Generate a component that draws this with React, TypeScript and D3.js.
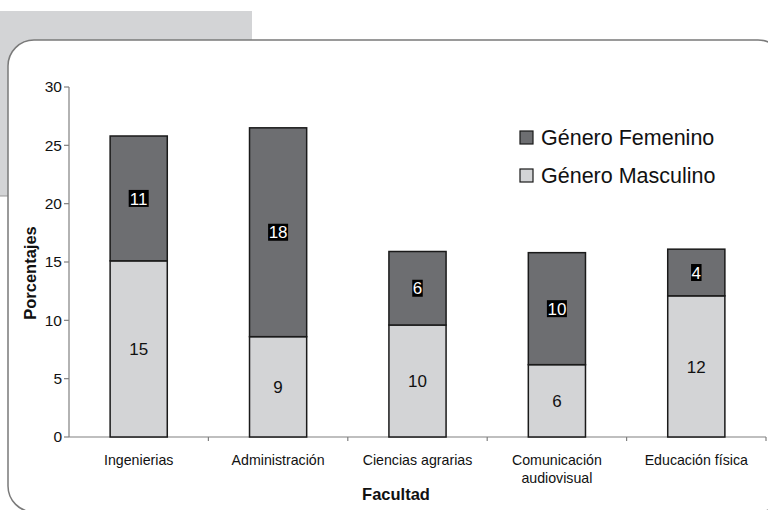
import React from "react";
import * as d3 from "d3";

const categories = ["Ingenierias", "Administración", "Ciencias agrarias", "Comunicación|audiovisual", "Educación física"];
const masculino = [15.1, 8.6, 9.6, 6.2, 12.1];
const femenino = [10.7, 17.9, 6.3, 9.6, 4.0];
const yTicks = [0, 5, 10, 15, 20, 25, 30];
const seriesNames = ["Género Femenino", "Género Masculino"];

const W = 768, H = 510;
const FONT = "'Liberation Sans', Arial, sans-serif";
const FEM = "#6d6e71";
const MAS = "#d3d4d6";

export default function App() {
  const x0 = 69, x1 = 766, yBase = 437, yTop = 87;
  const x = d3.scaleBand<string>().domain(categories).range([x0, x1]).paddingInner(0.59).paddingOuter(0.295);
  const band = d3.scaleBand<string>().domain(categories).range([x0, x1]);
  const y = d3.scaleLinear().domain([0, 30]).range([yBase, yTop]);
  const bw = x.bandwidth();

  return (
    <div style={{ position: "fixed", left: 0, top: 0 }}>
      <svg width={W} height={H} style={{ display: "block", fontFamily: FONT }}>
        <rect x={0} y={0} width={W} height={H} fill="#fff" />
        <rect x={0} y={11} width={252} height={185} fill="#d3d4d6" />
        <line x1={0} x2={10} y1={196} y2={196} stroke="#999" strokeWidth={1} />
        <rect x={8} y={40} width={776} height={472} rx={26} ry={26} fill="#fff" stroke="#7a7a7a" strokeWidth={1.5} />

        {/* y axis */}
        <line x1={x0} x2={x0} y1={yTop} y2={yBase} stroke="#808080" strokeWidth={1.2} />
        {yTicks.map((t) => (
          <g key={t}>
            <line x1={x0 - 5} x2={x0} y1={y(t)} y2={y(t)} stroke="#808080" strokeWidth={1.2} />
            <text x={x0 - 7} y={y(t)} dy="0.35em" textAnchor="end" fontSize={15.5} fill="#111">{t}</text>
          </g>
        ))}
        {/* x axis */}
        <line x1={x0} x2={x1} y1={yBase} y2={yBase} stroke="#808080" strokeWidth={1.2} />
        {categories.map((c) => (
          <line key={c} x1={(band(c) as number) + band.bandwidth()} x2={(band(c) as number) + band.bandwidth()} y1={yBase} y2={yBase + 4} stroke="#808080" strokeWidth={1.2} />
        ))}

        {/* bars */}
        {categories.map((c, i) => {
          const bx = x(c) as number;
          const m = masculino[i];
          const f = femenino[i];
          const fLabel = String(Math.round(f));
          const mLabel = String(Math.round(m));
          const fy = (y(m) + y(m + f)) / 2;
          const my = (y(0) + y(m)) / 2;
          const lw = fLabel.length * 9.5 + 1;
          return (
            <g key={c}>
              <rect x={bx} y={y(m)} width={bw} height={y(0) - y(m)} fill={MAS} stroke="#1a1a1a" strokeWidth={1.5} />
              <rect x={bx} y={y(m + f)} width={bw} height={y(m) - y(m + f)} fill={FEM} stroke="#1a1a1a" strokeWidth={1.5} />
              <rect x={bx + bw / 2 - lw / 2} y={fy - 8.5} width={lw} height={17} fill="#000" />
              <text x={bx + bw / 2} y={fy} dy="0.36em" textAnchor="middle" fontSize={17} fill="#fff">{fLabel}</text>
              <text x={bx + bw / 2} y={my} dy="0.36em" textAnchor="middle" fontSize={17} fill="#111">{mLabel}</text>
            </g>
          );
        })}

        {/* category labels */}
        {categories.map((c) => {
          const cx = (band(c) as number) + band.bandwidth() / 2;
          const lines = c.split("|");
          return (
            <text key={c} x={cx} y={460} textAnchor="middle" fontSize={14.2} fill="#111">
              {lines.map((l, j) => (
                <tspan key={j} x={cx} dy={j === 0 ? "0.35em" : 18}>{l}</tspan>
              ))}
            </text>
          );
        })}

        {/* axis titles */}
        <text x={396} y={494} dy="0.35em" textAnchor="middle" fontSize={16.5} fontWeight="bold" fill="#111">Facultad</text>
        <text transform={`translate(30,273) rotate(-90)`} textAnchor="middle" dy="0.35em" fontSize={16.5} fontWeight="bold" fill="#111">Porcentajes</text>

        {/* legend */}
        {seriesNames.map((s, i) => (
          <g key={s} transform={`translate(520,${131 + i * 38})`}>
            <rect x={0} y={0} width={13} height={13} fill={i === 0 ? FEM : MAS} stroke="#1a1a1a" strokeWidth={1.2} />
            <text x={21} y={6.5} dy="0.36em" fontSize={21.5} fill="#111">{s}</text>
          </g>
        ))}
      </svg>
    </div>
  );
}
